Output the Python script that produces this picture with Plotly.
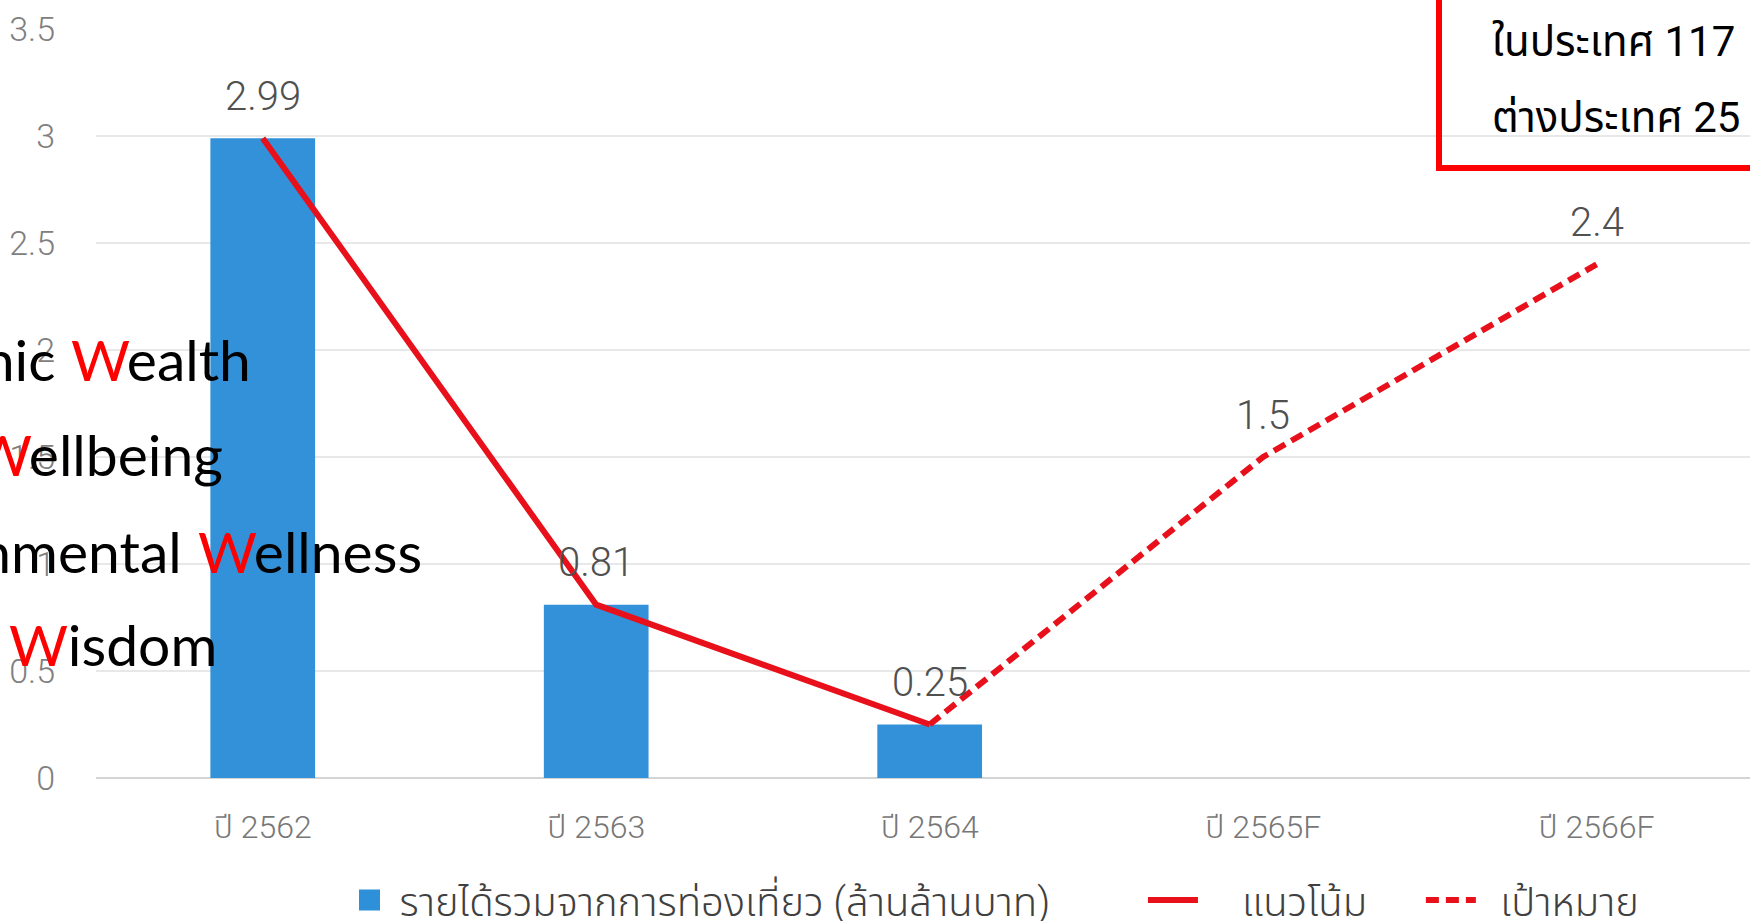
import plotly.graph_objects as go

# ---- data ----
categories = ["ปี 2562", "ปี 2563", "ปี 2564", "ปี 2565F", "ปี 2566F"]
revenue = [2.99, 0.81, 0.25, None, None]          # bars (ล้านล้านบาท)
trend_x = ["ปี 2562", "ปี 2563", "ปี 2564"]
trend_y = [2.99, 0.81, 0.25]                        # solid red line
target_x = ["ปี 2564", "ปี 2565F", "ปี 2566F"]
target_y = [0.25, 1.5, 2.4]                         # dashed red line
label_x = categories
label_vals = [2.99, 0.81, 0.25, 1.5, 2.4]
label_text = ["2.99", "0.81", "0.25", "1.5", "2.4"]
ytick_vals = [0, 0.5, 1, 1.5, 2, 2.5, 3, 3.5]
ytick_text = ["0", "0.5", "1", "1.5", "2", "2.5", "3", "3.5"]
side_lines = [("Economic", "ealth"), ("Social", "ellbeing"), ("Environmental", "ellness"), ("", "isdom")]
box_lines = ["ในประเทศ 117", "ต่างประเทศ 25"]
legend_names = ["รายได้รวมจากการท่องเที่ยว (ล้านล้านบาท)", "แนวโน้ม", "เป้าหมาย"]

W, H = 1750, 921
L, R, T, B = 96, 0, 29, 143
PW, PH = W - L - R, H - T - B

def px(x):
    return (x - L) / PW

def py(y):
    return (H - B - y) / PH

FONT = "Roboto, 'Noto Sans Thai', 'Noto Sans', sans-serif"
RED = "#E8101A"
NB = "\u00a0"

fig = go.Figure()
fig.add_trace(go.Bar(
    x=categories, y=revenue, width=0.314,
    marker=dict(color="#3391D9", line=dict(width=0)),
    name=legend_names[0], showlegend=False,
))
# legend-only entry for the bar series (bigger square symbol)
fig.add_trace(go.Scatter(
    x=[None], y=[None], mode="markers",
    marker=dict(symbol="square", size=16, color="#2E90D8",
                line=dict(color="#2E90D8", width=5)),
    name=legend_names[0] + NB * 9,
))
fig.add_trace(go.Scatter(
    x=trend_x, y=trend_y, mode="lines",
    line=dict(color=RED, width=6),
    name=NB * 4 + legend_names[1] + NB * 5,
))
fig.add_trace(go.Scatter(
    x=target_x, y=target_y, mode="lines",
    line=dict(color=RED, width=6, dash="13px,7px"),
    name=NB * 2 + legend_names[2],
))

annotations = []
for cx, v, t in zip(label_x, label_vals, label_text):
    annotations.append(dict(
        x=cx, y=v, xref="x", yref="y", text=t, showarrow=False,
        yshift=42, yanchor="middle", xanchor="center",
        font=dict(family=FONT, size=40, color="#505050", weight=300),
    ))

# left overlay text
w_start = [72, -26, 199, 10]
baselines = [380, 475, 572, 665]
SFONT = "Lato, 'Open Sans', sans-serif"
for (prefix, rest), xs, yb in zip(side_lines, w_start, baselines):
    yc = yb - 21
    annotations.append(dict(
        x=px(xs - 3), y=py(yc), xref="paper", yref="paper", xanchor="left", yanchor="middle",
        text="<span style='color:#FF0000'>W</span>" + rest, showarrow=False,
        font=dict(family=SFONT, size=57, color="#000000"),
    ))
    if prefix:
        annotations.append(dict(
            x=px(xs - 15), y=py(yc), xref="paper", yref="paper", xanchor="right", yanchor="middle",
            text=prefix, showarrow=False,
            font=dict(family=SFONT, size=57, color="#000000"),
        ))

for t, yc in zip(box_lines, [42, 118]):
    annotations.append(dict(
        x=px(1490), y=py(yc), xref="paper", yref="paper", xanchor="left", yanchor="middle",
        text=t, showarrow=False,
        font=dict(family=FONT, size=42, color="#000000"),
    ))

shapes = [dict(
    type="rect", xref="paper", yref="paper",
    x0=px(1439), x1=px(1900), y0=py(168), y1=py(-200),
    line=dict(color="#FF0000", width=6), fillcolor="rgba(0,0,0,0)",
)]

fig.update_layout(
    width=W, height=H,
    margin=dict(l=L, r=R, t=T, b=B, pad=0, autoexpand=False),
    paper_bgcolor="white", plot_bgcolor="white",
    font=dict(family=FONT, size=32, color="#7a7a7a"),
    showlegend=True,
    legend=dict(
        orientation="h", x=px(339.5), y=py(900), xanchor="left", yanchor="middle",
        font=dict(family=FONT, size=40, color="#404040", weight=300),
        bgcolor="rgba(0,0,0,0)", itemwidth=50, traceorder="normal",
    ),
    xaxis=dict(
        range=[-0.5, 4.46], showgrid=False, zeroline=False, showline=False,
        ticks="", tickfont=dict(size=32, color="#777777", weight=300),
        ticklabelstandoff=27, fixedrange=True, automargin=False,
    ),
    yaxis=dict(
        range=[0, 3.5], tickvals=ytick_vals, ticktext=ytick_text,
        showgrid=True, gridcolor="#E8E8E8", gridwidth=2,
        zeroline=True, zerolinecolor="#D4D4D4", zerolinewidth=2,
        showline=False, ticks="", automargin=False, fixedrange=True,
        tickfont=dict(size=34, color="#808080", weight=300),
        ticklabelstandoff=40,
    ),
    annotations=annotations,
    shapes=shapes,
)

fig.write_html(
    "out.html",
    config={"displayModeBar": False},
    post_script="document.body.style.margin='0px';document.body.style.overflow='hidden';",
)
